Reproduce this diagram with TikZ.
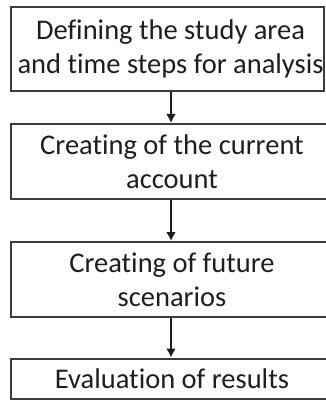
\documentclass[tikz,border=0pt]{standalone}
\usepackage{fontspec}
\setmainfont{Carlito}[RawFeature={-liga;-clig;-dlig}]
\usetikzlibrary{arrows.meta}
\definecolor{edge}{HTML}{3C3C3C}
\definecolor{ink}{HTML}{1E1E1E}
\begin{document}
\begin{tikzpicture}[x=1pt,y=-1pt,
  stepbox/.style={draw=edge, line width=2pt, inner sep=0pt, text=ink, align=center,
    font=\fontsize{28.5}{34}\selectfont},
  conn/.style={draw=ink, line width=2.2pt, -{Latex[length=9pt,width=10pt]}}]
\useasboundingbox (0,0) rectangle (326,401);
\fill[white] (0,0) rectangle (326,401);
\node[stepbox, minimum width=313pt, minimum height=84pt] (b1) at (167.5,49)
  {\hspace*{6pt}Defining the study area\\\hspace*{6pt}and time steps for analysis};
\node[stepbox, minimum width=322pt, minimum height=75pt] (b2) at (172,161.5)
  {Creating of the current\\account};
\node[stepbox, minimum width=322pt, minimum height=75pt] (b3) at (172,279.5)
  {Creating of future\\scenarios};
\node[stepbox, minimum width=322pt, minimum height=40pt] (b4) at (172,378.5)
  {Evaluation of results};
\draw[conn] (b1.south -| 171,0) -- (b2.north -| 171,0);
\draw[conn] (b2.south -| 171,0) -- (b3.north -| 171,0);
\draw[conn] (b3.south -| 171,0) -- (b4.north -| 171,0);
\end{tikzpicture}
\end{document}
